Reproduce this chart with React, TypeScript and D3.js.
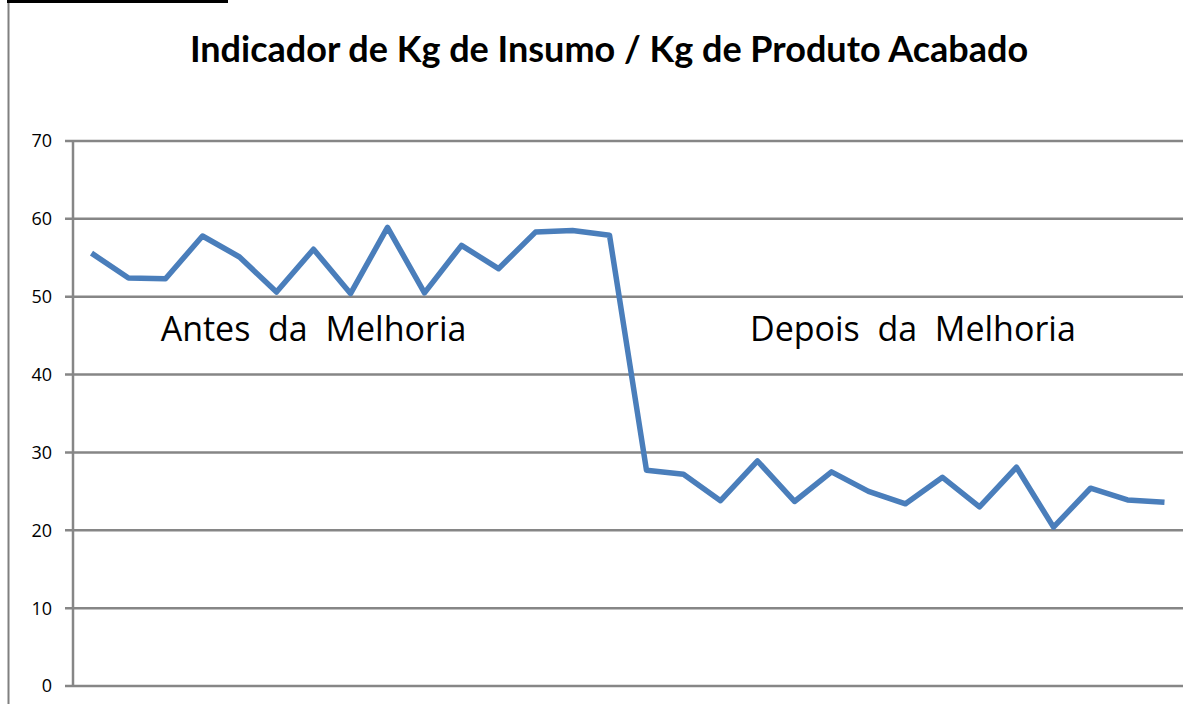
import React, { useRef, useEffect } from "react";
import * as d3 from "d3";

const periods: string[] = d3.range(1, 31).map((d) => String(d));
const values: number[] = [
  55.6, 52.4, 52.3, 57.8, 55.1, 50.6, 56.1, 50.4, 58.9, 50.5,
  56.6, 53.6, 58.3, 58.5, 57.9, 27.7, 27.2, 23.8, 28.9, 23.7,
  27.5, 25.0, 23.4, 26.8, 23.0, 28.1, 20.4, 25.4, 23.9, 23.6,
];
const yTicks: number[] = [0, 10, 20, 30, 40, 50, 60, 70];
const title = "Indicador de Kg de Insumo / Kg de Produto Acabado";
const notes = [
  { text: "Antes  da  Melhoria", at: 6, value: 44.3 },
  { text: "Depois  da  Melhoria", at: 22.2, value: 44.3 },
];

export default function App() {
  const svgRef = useRef<SVGSVGElement>(null);
  const W = 1201, H = 704;
  const margin = { top: 141, right: 18, bottom: 18, left: 73 };

  useEffect(() => {
    const svg = d3.select(svgRef.current);
    svg.selectAll("*").remove();
    const w = W - margin.left - margin.right;
    const h = H - margin.top - margin.bottom;

    // outer frame bits
    svg.append("rect").attr("x", 7).attr("y", 0).attr("width", 221).attr("height", 3).attr("fill", "#000");
    svg.append("line").attr("x1", 8.5).attr("x2", 8.5).attr("y1", 3).attr("y2", H)
      .attr("stroke", "#808080").attr("stroke-width", 2);

    svg.append("text")
      .attr("x", 609).attr("y", 62)
      .attr("text-anchor", "middle")
      .attr("font-family", "Lato, 'Open Sans', sans-serif")
      .attr("font-weight", "bold")
      .attr("font-size", 36)
      .attr("fill", "#000")
      .text(title);

    const g = svg.append("g").attr("transform", `translate(${margin.left},${margin.top})`);

    const x = d3.scaleBand().domain(periods).range([0, w]).padding(0);
    const y = d3.scaleLinear().domain([0, 70]).range([h, 0]);
    const cx = (i: number) => x(periods[0])! + x.step() * i + x.bandwidth() / 2;

    // gridlines
    g.selectAll(".grid").data(yTicks).enter().append("line")
      .attr("x1", -8).attr("x2", w)
      .attr("y1", (d) => y(d)).attr("y2", (d) => y(d))
      .attr("stroke", "#868686").attr("stroke-width", 2.5);

    g.append("line").attr("x1", 0).attr("x2", 0).attr("y1", 0).attr("y2", h)
      .attr("stroke", "#868686").attr("stroke-width", 2.5);

    g.selectAll(".tick").data(yTicks).enter().append("text")
      .attr("x", -21).attr("y", (d) => y(d)).attr("dy", "0.36em")
      .attr("text-anchor", "end")
      .attr("font-family", "'Open Sans', sans-serif")
      .attr("font-size", 18)
      .attr("fill", "#000")
      .text((d) => d);

    const line = d3.line<number>()
      .x((_, i) => x(periods[i])! + x.bandwidth() / 2)
      .y((d) => y(d));

    g.append("path").datum(values)
      .attr("d", line)
      .attr("fill", "none")
      .attr("stroke", "#4a7ebb")
      .attr("stroke-width", 5.5)
      .attr("stroke-linejoin", "round");

    g.selectAll(".note").data(notes).enter().append("text")
      .attr("x", (d) => cx(d.at)).attr("y", (d) => y(d.value))
      .attr("text-anchor", "middle")
      .attr("font-family", "'Open Sans', sans-serif")
      .attr("font-size", 34)
      .attr("fill", "#000")
      .style("white-space", "pre")
      .text((d) => d.text);
  }, []);

  return (
    <div style={{ position: "fixed", left: 0, top: 0, background: "#fff" }}>
      <svg ref={svgRef} width={W} height={H} />
    </div>
  );
}
